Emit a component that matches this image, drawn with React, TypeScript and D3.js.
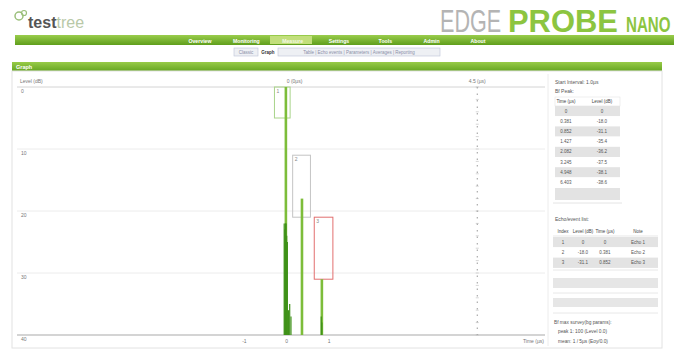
import React from "react";
import * as d3 from "d3";

// nav + tabs
const navItems = ["Overview", "Monitoring", "Measure", "Settings", "Tools", "Admin", "About"];
const subTabs = ["Classic", "Graph", "Table | Echo events | Parameters | Averages | Reporting"];

// trace (µs, dB attenuation)
const traceTimes = [-0.02, 0.36, 0.83];
const traceLevels = [0, 18, 31];
const denseTimes = [-0.06, -0.045, -0.03, -0.015, 0.0, 0.015, 0.04, 0.07, 0.1, 0.815, 0.83];
const denseLevels = [22, 23, 22, 22, 24, 25, 36, 35, 37, 37, 38];

// echo markers
const markerIds = ["1", "2", "3"];
const markerStart = [-0.29, 0.14, 0.65];
const markerEnd = [0.08, 0.56, 1.09];
const markerTop = [0, 11, 21];
const markerBottom = [5, 21, 31];

const xTicks = [-1, 0, 1];
const cursorTime = 4.5;

// side tables
const peakTimes = ["0", "0.381", "0.852", "1.427", "2.082", "3.245", "4.948", "6.403"];
const peakLevels = ["0", "-18.0", "-31.1", "-35.4", "-36.2", "-37.5", "-38.1", "-38.6"];
const echoIdx = ["1", "2", "3"];
const echoLevels = ["0", "-18.0", "-31.1"];
const echoTimes = ["0", "0.381", "0.852"];
const echoNotes = ["Echo 1", "Echo 2", "Echo 3"];

const FONT = "Liberation Sans, Arial, sans-serif";

export default function App() {
  const x = d3.scaleLinear().domain([-6.3, 6.1]).range([20, 545]);
  const y = d3.scaleLinear().domain([0, 40]).range([87, 335]);
  const navX = d3.scalePoint<string>().domain(navItems).range([200, 478]);
  const markerColors = ["#a9d48a", "#c4c4c4", "#e26f6f"];

  const traces = traceTimes.map((t, i) => ({ t, db: traceLevels[i] }));
  const dense = denseTimes.map((t, i) => ({ t, db: denseLevels[i] }));
  const markers = markerIds.map((id, i) => ({
    id,
    x0: x(markerStart[i]),
    x1: x(markerEnd[i]),
    y0: y(markerTop[i]),
    y1: y(markerBottom[i]),
    color: markerColors[i],
  }));

  const cx = x(cursorTime);

  return (
    <div style={{ position: "absolute", left: 0, top: 0 }}>
      <svg width={674} height={351} style={{ display: "block", fontFamily: FONT }}>
        <defs>
          <linearGradient id="navG" x1="0" y1="0" x2="0" y2="1">
            <stop offset="0" stopColor="#9acd4c" />
            <stop offset="1" stopColor="#5f9e1c" />
          </linearGradient>
          <linearGradient id="barG" x1="0" y1="0" x2="0" y2="1">
            <stop offset="0" stopColor="#98cb48" />
            <stop offset="1" stopColor="#67a622" />
          </linearGradient>
        </defs>
        <rect width={674} height={351} fill="#fff" />

        {/* header */}
        <circle cx={19} cy={16} r={4} fill="none" stroke="#9bbf7a" strokeWidth={1.5} />
        <circle cx={24} cy={13} r={2.5} fill="none" stroke="#9bbf7a" strokeWidth={1.2} />
        <text x={28} y={28} fontSize={16} fontWeight="bold" fill="#555">
          test<tspan fontWeight="normal" fill="#b9c9a8">tree</tspan>
        </text>
        <text transform="translate(440,32) scale(0.72,1.05)" fontSize={30} fill="#b4b4b4">EDGE</text>
        <text transform="translate(508,32) scale(1.03,1.05)" fontSize={30} fontWeight="bold" fill="#8cc540">PROBE</text>
        <text transform="translate(626,32) scale(0.72,1.05)" fontSize={21} fontWeight="bold" fill="#8cc540">NANO</text>

        <rect x={15} y={35} width={659} height={10} fill="url(#navG)" />
        <rect x={270} y={36} width={42} height={8} fill="#c2df7c" />
        {navItems.map((n) => (
          <text key={n} x={navX(n)} y={42.5} fontSize={5.2} fontWeight="bold" textAnchor="middle" fill={n === "Measure" ? "#f4f9e6" : "#fff"}>
            {n}
          </text>
        ))}

        {/* sub tabs */}
        <rect x={234} y={48} width={24} height={8} fill="#eef0f4" stroke="#bcc3d6" strokeWidth={0.6} />
        <text x={246} y={54} fontSize={4.5} textAnchor="middle" fill="#8a8fa8">{subTabs[0]}</text>
        <text x={268} y={54} fontSize={4.5} textAnchor="middle" fill="#333" fontWeight="bold">{subTabs[1]}</text>
        <rect x={278} y={48} width={162} height={8} fill="#eef0f4" stroke="#bcc3d6" strokeWidth={0.6} />
        <text x={359} y={54} fontSize={4.5} textAnchor="middle" fill="#8a8fa8">{subTabs[2]}</text>

        {/* section bar */}
        <rect x={12} y={62} width={650} height={9} fill="url(#barG)" />
        <text x={16} y={69} fontSize={5.5} fill="#fff" fontWeight="bold">Graph</text>
        <rect x={12} y={71} width={650} height={277} fill="none" stroke="#e2e2e2" strokeWidth={1} />
        <line x1={548} x2={548} y1={74} y2={346} stroke="#ececec" />

        {/* grid */}
        {y.ticks(4).map((v) => (
          <g key={v}>
            <line x1={17} x2={545} y1={y(v)} y2={y(v)} stroke={v === 40 ? "#aaa" : v === 0 ? "#d4d4d4" : "#ececec"} strokeWidth={v === 40 ? 1.2 : 1} />
            <text x={21} y={y(v) + 6} fontSize={5} fill="#777">{v}</text>
          </g>
        ))}
        <text x={20} y={83} fontSize={5} fill="#777">Level (dB)</text>
        <text x={x(0)} y={83} fontSize={5} fill="#777">0 (0µs)</text>
        {xTicks.map((t) => (
          <text key={t} x={x(t)} y={343} fontSize={5} textAnchor="middle" fill="#777">{t}</text>
        ))}
        <text x={544} y={343} fontSize={5} textAnchor="end" fill="#777">Time (µs)</text>

        {/* cursor */}
        <line x1={cx} x2={cx} y1={y(0)} y2={y(40)} stroke="#999" strokeWidth={1} strokeDasharray="1.5,5" />
        {y.ticks(40).filter((v) => v % 2 === 0).map((v) => (
          <line key={v} x1={cx - 1.5} x2={cx + 1.5} y1={y(v)} y2={y(v)} stroke="#bbb" strokeWidth={0.6} />
        ))}
        <text x={cx} y={83} fontSize={5} textAnchor="middle" fill="#777">{cursorTime} (µs)</text>

        {/* markers */}
        {markers.map((m) => (
          <g key={m.id}>
            <rect x={m.x0} y={m.y0} width={m.x1 - m.x0} height={m.y1 - m.y0} fill="none" stroke={m.color} strokeWidth={1} />
            <text x={m.x0 + 2} y={m.y0 + 6} fontSize={5} fill="#888">{m.id}</text>
          </g>
        ))}

        {/* trace */}
        {traces.map((d, i) => (
          <line key={i} x1={x(d.t)} x2={x(d.t)} y1={y(d.db)} y2={y(40)} stroke="#7dbd3a" strokeWidth={2.6} />
        ))}
        {dense.map((d, i) => (
          <line key={i} x1={x(d.t)} x2={x(d.t)} y1={y(d.db)} y2={y(40)} stroke="#3f9118" strokeWidth={1.2} />
        ))}

        {/* right panel */}
        <text x={555} y={84} fontSize={5} fill="#555">Start Interval: 1.0µs</text>
        <text x={555} y={93} fontSize={5} fill="#555">Bf Peak:</text>
        <rect x={555} y={97} width={65} height={9} fill="#fff" stroke="#e4e4e4" strokeWidth={0.6} />
        <text x={566} y={103} fontSize={4.5} textAnchor="middle" fill="#444">Time (µs)</text>
        <text x={602} y={103} fontSize={4.5} textAnchor="middle" fill="#444">Level (dB)</text>
        {peakTimes.map((t, i) => (
          <g key={i}>
            <rect x={555} y={106 + i * 10.2} width={65} height={10.2} fill={i % 2 === 0 ? "#e3e3e3" : "#fff"} />
            <text x={566} y={112.5 + i * 10.2} fontSize={4.5} textAnchor="middle" fill="#555">{t}</text>
            <text x={602} y={112.5 + i * 10.2} fontSize={4.5} textAnchor="middle" fill="#555">{peakLevels[i]}</text>
          </g>
        ))}
        <rect x={555} y={188} width={65} height={12} fill="#e3e3e3" />
        <line x1={553} x2={622} y1={203} y2={203} stroke="#e4e4e4" />

        <text x={555} y={221} fontSize={5} fill="#555">Echo/event list:</text>
        {[["Index", 563], ["Level (dB)", 583], ["Time (µs)", 605], ["Note", 638]].map(([h, hx]) => (
          <text key={h as string} x={hx as number} y={233} fontSize={4.5} textAnchor="middle" fill="#444">{h}</text>
        ))}
        <line x1={553} x2={658} y1={236} y2={236} stroke="#d8d8d8" strokeWidth={0.6} />
        {echoIdx.map((idx, i) => (
          <g key={idx}>
            <rect x={553} y={237 + i * 10.3} width={105} height={10.3} fill={i % 2 === 0 ? "#e3e3e3" : "#fff"} />
            <text x={563} y={243.5 + i * 10.3} fontSize={4.5} textAnchor="middle" fill="#555">{idx}</text>
            <text x={583} y={243.5 + i * 10.3} fontSize={4.5} textAnchor="middle" fill="#555">{echoLevels[i]}</text>
            <text x={605} y={243.5 + i * 10.3} fontSize={4.5} textAnchor="middle" fill="#555">{echoTimes[i]}</text>
            <text x={638} y={243.5 + i * 10.3} fontSize={4.5} textAnchor="middle" fill="#555">{echoNotes[i]}</text>
          </g>
        ))}
        <line x1={553} x2={658} y1={270} y2={270} stroke="#e8e8e8" />
        <rect x={553} y={278} width={105} height={10} fill="#e6e6e6" />
        <line x1={553} x2={658} y1={293} y2={293} stroke="#e8e8e8" />
        <rect x={553} y={298} width={105} height={9} fill="#e6e6e6" />
        <line x1={553} x2={658} y1={313} y2={313} stroke="#e8e8e8" />

        <text x={554} y={324} fontSize={4.8} fill="#555">Bf max survey(bg params):</text>
        <text x={558} y={333} fontSize={4.8} fill="#555">peak 1: 100 (Level 0.0)</text>
        <text x={558} y={343} fontSize={4.8} fill="#555">mean: 1 / 5µs (Eoy/0.0)</text>
      </svg>
    </div>
  );
}
